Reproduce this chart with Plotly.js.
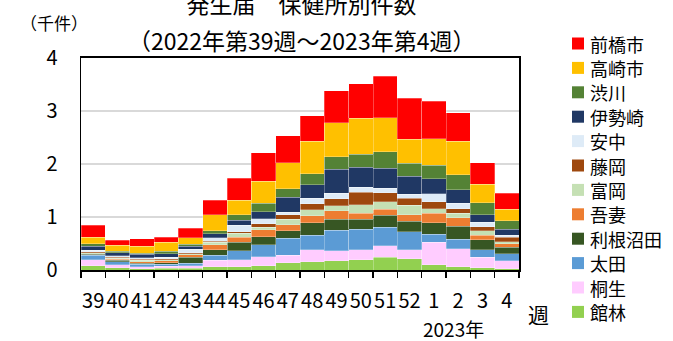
<!DOCTYPE html>
<html>
<head>
<meta charset="utf-8">
<script src="https://cdn.plot.ly/plotly-3.0.1.min.js"></script>
<style>
  html, body { margin: 0; padding: 0; background: #fff; }
  #chart { width: 673px; height: 341px; }
</style>
</head>
<body>
<div id="chart"></div>
<script>
// Weeks: 2022 week 39 .. 52, then 2023 week 1 .. 4
const weeks = ['39','40','41','42','43','44','45','46','47','48','49','50','51','52','1','2','3','4'];

// Weekly notifications per health centre (thousands), stacked bottom to top
const tatebayashi = [0.08,0.04,0.02,0.03,0.03,0.06,0.06,0.08,0.14,0.16,0.17,0.19,0.24,0.21,0.10,0.06,0.04,0.02];
const kiryu       = [0.11,0.06,0.04,0.04,0.05,0.12,0.13,0.17,0.14,0.22,0.19,0.19,0.22,0.17,0.42,0.34,0.20,0.15];
const ota         = [0.09,0.06,0.05,0.04,0.05,0.10,0.17,0.23,0.32,0.28,0.39,0.39,0.35,0.34,0.15,0.18,0.14,0.14];
const toneNumata  = [0.02,0.02,0.02,0.03,0.11,0.10,0.16,0.15,0.14,0.23,0.21,0.19,0.22,0.20,0.22,0.25,0.19,0.12];
const agatsuma    = [0.01,0.02,0.03,0.03,0.05,0.10,0.10,0.13,0.11,0.13,0.16,0.11,0.12,0.12,0.18,0.16,0.09,0.07];
const tomioka     = [0.02,0.02,0.02,0.02,0.02,0.04,0.07,0.05,0.11,0.12,0.09,0.16,0.14,0.18,0.09,0.08,0.08,0.03];
const fujioka     = [0.01,0.02,0.02,0.02,0.02,0.02,0.03,0.06,0.08,0.11,0.13,0.24,0.17,0.13,0.13,0.09,0.08,0.09];
const annaka      = [0.03,0.03,0.03,0.03,0.06,0.07,0.12,0.10,0.05,0.10,0.11,0.09,0.08,0.08,0.15,0.10,0.08,0.04];
const isesaki     = [0.08,0.06,0.07,0.07,0.06,0.07,0.10,0.13,0.28,0.26,0.45,0.38,0.38,0.34,0.28,0.25,0.14,0.11];
const shibukawa   = [0.05,0.02,0.02,0.04,0.04,0.06,0.10,0.16,0.16,0.21,0.24,0.24,0.31,0.24,0.26,0.29,0.23,0.16];
const takasaki    = [0.12,0.12,0.13,0.17,0.12,0.30,0.28,0.41,0.49,0.61,0.64,0.68,0.64,0.46,0.50,0.63,0.35,0.22];
const maebashi    = [0.22,0.09,0.14,0.10,0.18,0.28,0.41,0.54,0.51,0.48,0.60,0.65,0.79,0.77,0.70,0.54,0.40,0.30];

const seriesNames = ['館林','桐生','太田','利根沼田','吾妻','富岡','藤岡','安中','伊勢崎','渋川','高崎市','前橋市'];
const seriesValues = [tatebayashi, kiryu, ota, toneNumata, agatsuma, tomioka, fujioka, annaka, isesaki, shibukawa, takasaki, maebashi];
const seriesColors = ['#92D050','#FFCCFF','#5B9BD5','#375623','#ED7D31','#C5E0B4','#9E480E','#DEEBF7','#203864','#548235','#FFC000','#FF0000'];

const FONT = '"Noto Sans CJK JP", "Noto Sans", sans-serif';

// Plot area geometry (px) used to place the key and labels in paper units
const W = 673, H = 341, M = { l: 81, r: 154, t: 58, b: 71 };
const PW = W - M.l - M.r, PH = H - M.t - M.b;
const px = v => (v - M.l) / PW;
const py = v => (H - M.b - v) / PH;

const traces = seriesNames.map((n, i) => ({
  type: 'bar',
  x: weeks,
  y: seriesValues[i],
  name: n,
  marker: { color: seriesColors[i], line: { color: 'rgba(255,255,255,0.45)', width: 0.6 } },
  hoverinfo: 'x+y'
}));

// Key on the right: top entry is the top of the stack
const keyShapes = [];
const keyNotes = [];
for (let k = 0; k < seriesNames.length; k++) {
  const i = seriesNames.length - 1 - k;
  const cy = 43.5 + 24.4 * k;
  keyShapes.push({
    type: 'rect', xref: 'paper', yref: 'paper',
    x0: px(572), x1: px(584), y0: py(cy + 6), y1: py(cy - 6),
    fillcolor: seriesColors[i], line: { width: 0 }
  });
  keyNotes.push({
    text: seriesNames[i], xref: 'paper', yref: 'paper',
    x: px(589), y: py(cy), xanchor: 'left', yanchor: 'middle',
    showarrow: false, borderpad: 0,
    font: { family: FONT, size: 18, color: '#000' }
  });
}

const layout = {
  width: W,
  height: H,
  margin: M,
  paper_bgcolor: '#fff',
  plot_bgcolor: '#fff',
  barmode: 'stack',
  bargap: 0,
  showlegend: false,
  font: { family: FONT, color: '#000', size: 20 },
  title: {
    text: '発生届　保健所別件数',
    font: { family: FONT, size: 23, color: '#000' },
    x: 0.448, xanchor: 'center',
    y: 0.985, yanchor: 'middle', yref: 'container'
  },
  xaxis: {
    type: 'category',
    tickmode: 'linear',
    tick0: 0,
    dtick: 1,
    tickson: 'boundaries',
    ticks: 'outside',
    ticklen: 6,
    tickwidth: 1.5,
    tickcolor: '#000',
    tickangle: 0,
    ticklabelstandoff: 12,
    tickfont: { family: FONT, size: 20, color: '#000' },
    showline: true,
    linecolor: '#000',
    linewidth: 2,
    mirror: true,
    showgrid: false,
    zeroline: false
  },
  yaxis: {
    range: [0, 4],
    tickvals: [0, 1, 2, 3, 4],
    ticks: '',
    ticklabelstandoff: 18,
    tickfont: { family: FONT, size: 20, color: '#000' },
    showline: true,
    linecolor: '#000',
    linewidth: 1.5,
    mirror: true,
    showgrid: true,
    gridcolor: '#D9D9D9',
    gridwidth: 1.5,
    zeroline: false
  },
  shapes: keyShapes,
  annotations: [
    { text: '（2022年第39週～2023年第4週）', xref: 'paper', yref: 'paper', x: px(301), y: py(39.5),
      xanchor: 'center', yanchor: 'middle', showarrow: false, font: { family: FONT, size: 23, color: '#000' } },
    { text: '（千件）', xref: 'paper', yref: 'paper', x: px(54), y: py(22.5),
      xanchor: 'center', yanchor: 'middle', showarrow: false, font: { family: FONT, size: 17, color: '#000' } },
    { text: '週', xref: 'paper', yref: 'paper', x: px(538), y: py(313.5),
      xanchor: 'center', yanchor: 'middle', showarrow: false, font: { family: FONT, size: 21, color: '#000' } },
    { text: '2023年', xref: 'paper', yref: 'paper', x: px(453), y: py(328),
      xanchor: 'center', yanchor: 'middle', showarrow: false, borderpad: 0, font: { family: FONT, size: 19, color: '#000' } }
  ].concat(keyNotes)
};

Plotly.newPlot('chart', traces, layout, { displayModeBar: false, staticPlot: true });
</script>
</body>
</html>
